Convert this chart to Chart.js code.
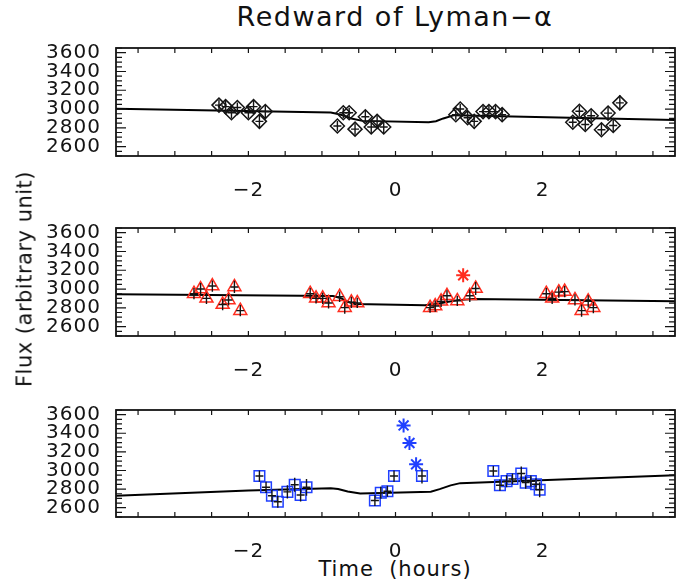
<!DOCTYPE html>
<html lang="en">
<head>
    <meta charset="UTF-8">
    <title>Redward of Lyman-α</title>
    <script src="https://cdn.jsdelivr.net/npm/chart.js"></script>
    <style>
        body {
            margin: 0;
            background: #fff;
            font-family: 'DejaVu Sans', sans-serif;
            color: #111;
        }

        .wrap {
            position: relative;
            width: 695px;
            height: 584px;
            overflow: hidden;
        }

        .panel {
            position: absolute;
            left: 0;
        }

        .title {
            position: absolute;
            left: 395px;
            top: 1px;
            transform: translateX(-50%);
            white-space: nowrap;
            font-size: 27px;
            line-height: 32px;
            letter-spacing: 1.5px;
        }

        .xlabel {
            position: absolute;
            left: 395px;
            top: 557px;
            transform: translateX(-50%);
            white-space: nowrap;
            font-size: 21px;
            line-height: 25px;
            letter-spacing: 1px;
        }

        .ylabel {
            position: absolute;
            left: 25px;
            top: 279px;
            transform: translate(-50%, -50%) rotate(-90deg);
            white-space: nowrap;
            font-size: 21px;
            line-height: 25px;
            letter-spacing: 0.5px;
        }
    </style>
</head>
<body>
<div class="wrap">
    <div class="title">Redward of Lyman−α</div>
    <canvas id="p1" class="panel" width="695" height="167" style="top:29px"></canvas>
    <canvas id="p2" class="panel" width="695" height="167" style="top:209px"></canvas>
    <canvas id="p3" class="panel" width="695" height="166" style="top:391px"></canvas>
    <div class="ylabel">Flux (arbitrary unit)</div>
    <div class="xlabel">Time&nbsp; (hours)</div>
</div>

<script>
    // top panel: diamonds
    const t1 = [-2.40, -2.31, -2.23, -2.15, -2.00, -1.93, -1.85, -1.77, -0.79, -0.71, -0.63, -0.55, -0.41, -0.33, -0.25, -0.16,
                0.82, 0.88, 0.98, 1.07, 1.19, 1.27, 1.36, 1.45, 2.41, 2.50, 2.58, 2.66, 2.80, 2.89, 2.96, 3.05];
    const flux1 = [3042, 3026, 2960, 3016, 2960, 3026, 2869, 2973, 2819, 2960, 2960, 2786, 2918, 2809, 2869, 2809,
                   2940, 3000, 2908, 2869, 2973, 2973, 2973, 2940, 2859, 2977, 2835, 2928, 2780, 2957, 2825, 3066];
    const err1 = [55, 60, 60, 55, 60, 65, 70, 70, 55, 55, 55, 60, 60, 65, 60, 65,
                  55, 55, 60, 55, 60, 65, 65, 70, 55, 60, 60, 60, 60, 65, 70, 80];
    const modelT1 = [-3.8, -0.88, -0.8, -0.7, -0.6, -0.45, 0.45, 0.55, 0.65, 0.8, 3.8];
    const modelF1 = [3003, 2963, 2950, 2930, 2900, 2874, 2860, 2870, 2900, 2935, 2882];

    // middle panel: triangles
    const t2 = [-2.74, -2.65, -2.57, -2.49, -2.35, -2.27, -2.19, -2.11, -1.16, -1.08, -0.99, -0.91, -0.76, -0.69, -0.60, -0.52,
                0.47, 0.54, 0.62, 0.70, 0.84, 1.01, 1.09, 2.05, 2.13, 2.22, 2.30, 2.44, 2.53, 2.62, 2.69];
    const flux2 = [2950, 3000, 2901, 3032, 2835, 2884, 3022, 2770, 2950, 2901, 2901, 2852, 2918, 2802, 2859, 2852,
                   2802, 2819, 2869, 2928, 2874, 2928, 3006, 2950, 2901, 2967, 2973, 2884, 2770, 2869, 2802];
    const err2 = [60, 65, 60, 60, 60, 60, 65, 60, 60, 55, 60, 60, 55, 65, 60, 55,
                  55, 60, 60, 60, 55, 65, 70, 60, 60, 60, 60, 60, 65, 65, 60];
    const outT2 = [0.92];
    const outF2 = [3147];
    const modelT2 = [-3.8, -0.85, -0.75, -0.65, -0.55, 0.4, 0.55, 0.7, 0.85, 1.05, 3.8];
    const modelF2 = [2945, 2925, 2905, 2865, 2840, 2828, 2840, 2862, 2882, 2895, 2870];

    // bottom panel: squares
    const t3 = [-1.85, -1.76, -1.68, -1.60, -1.47, -1.37, -1.29, -1.21, -0.28, -0.20, -0.11, -0.02, 0.36,
                1.33, 1.42, 1.51, 1.59, 1.71, 1.77, 1.84, 1.91, 1.96];
    const flux3 = [2940, 2819, 2728, 2664, 2770, 2846, 2737, 2819, 2678, 2760, 2777, 2940, 2940,
                   2994, 2842, 2885, 2908, 2967, 2869, 2885, 2852, 2793];
    const err3 = [60, 60, 65, 65, 70, 75, 70, 90, 60, 65, 60, 60, 80,
                  55, 60, 65, 60, 75, 65, 60, 65, 80];
    const outT3 = [0.11, 0.19, 0.28];
    const outF3 = [3484, 3295, 3066];
    const modelT3 = [-3.8, -2.0, -0.88, -0.78, -0.65, -0.48, 0.48, 0.6, 0.75, 0.88, 3.8];
    const modelF3 = [2728, 2785, 2810, 2800, 2775, 2752, 2772, 2800, 2840, 2864, 2950];

    const xLabels = [-2, 0, 2];
    const yLabels = [2600, 2800, 3000, 3200, 3400, 3600];

    const RED = '#ff2d1f';
    const BLUE = '#2040ff';
    const INK = '#141414';

    const pts = (xs, ys) => xs.map((x, i) => ({ x: x, y: ys[i] }));

    // IDL style: closed frame, inward ticks on all four sides, error bars with a cross
    const idlFrame = {
        id: 'idlFrame',
        beforeDraw(chart) {
            chart.ctx.letterSpacing = '1px';
        },
        afterDatasetsDraw(chart, args, opts) {
            const ctx = chart.ctx;
            const xs = chart.scales.x, ys = chart.scales.y;
            ctx.save();
            ctx.strokeStyle = INK;
            ctx.lineWidth = 1.4;
            opts.t.forEach((t, i) => {
                const px = xs.getPixelForValue(t);
                const py = ys.getPixelForValue(opts.f[i]);
                ctx.beginPath();
                ctx.moveTo(px, ys.getPixelForValue(opts.f[i] + opts.e[i]));
                ctx.lineTo(px, ys.getPixelForValue(opts.f[i] - opts.e[i]));
                ctx.moveTo(px - 4, py);
                ctx.lineTo(px + 4, py);
                ctx.stroke();
            });
            ctx.restore();
        },
        afterDraw(chart) {
            const ctx = chart.ctx;
            const a = chart.chartArea;
            const xs = chart.scales.x, ys = chart.scales.y;
            ctx.save();
            ctx.letterSpacing = '0px';
            ctx.strokeStyle = INK;
            ctx.lineWidth = 1.8;
            ctx.strokeRect(a.left, a.top, a.right - a.left, a.bottom - a.top);
            ctx.lineWidth = 1.2;
            ctx.beginPath();
            xs.ticks.forEach(tk => {
                const px = xs.getPixelForValue(tk.value);
                ctx.moveTo(px, a.bottom);
                ctx.lineTo(px, a.bottom - 5);
                ctx.moveTo(px, a.top);
                ctx.lineTo(px, a.top + 5);
            });
            ys.ticks.forEach(tk => {
                const py = ys.getPixelForValue(tk.value);
                const len = tk.value % 200 === 0 ? 10 : 6;
                ctx.moveTo(a.left, py);
                ctx.lineTo(a.left + len, py);
                ctx.moveTo(a.right, py);
                ctx.lineTo(a.right - len, py);
            });
            ctx.stroke();
            ctx.restore();
        }
    };

    function makePanel(id, markers, outliers, model) {
        const datasets = [{
            data: pts(markers.t, markers.f),
            showLine: false,
            pointStyle: markers.style,
            pointRadius: markers.radius,
            pointBorderColor: markers.color,
            pointBackgroundColor: 'rgba(0,0,0,0)',
            pointBorderWidth: 1.5
        }];
        if (outliers) {
            datasets.push({
                data: pts(outliers.t, outliers.f),
                showLine: false,
                pointStyle: 'star',
                pointRadius: 7,
                pointBorderColor: outliers.color,
                pointBorderWidth: 2
            });
        }
        datasets.push({
            data: pts(model.t, model.f),
            showLine: true,
            borderColor: '#000',
            borderWidth: 2,
            pointRadius: 0,
            tension: 0
        });

        new Chart(document.getElementById(id), {
            type: 'scatter',
            data: { datasets: datasets },
            plugins: [idlFrame],
            options: {
                responsive: false,
                animation: false,
                layout: { padding: { top: 10, right: 20, left: 0, bottom: 0 } },
                plugins: {
                    legend: { display: false },
                    tooltip: { enabled: false },
                    idlFrame: { t: markers.t, f: markers.f, e: markers.e }
                },
                scales: {
                    x: {
                        type: 'linear',
                        min: -3.8,
                        max: 3.8,
                        grid: { display: false },
                        border: { display: false },
                        ticks: {
                            stepSize: 0.5,
                            includeBounds: false,
                            autoSkip: false,
                            maxRotation: 0,
                            padding: 15,
                            color: INK,
                            font: { family: 'DejaVu Sans', size: 20 },
                            callback: v => {
                                const hit = xLabels.find(l => Math.abs(l - v) < 1e-6);
                                return hit === undefined ? '' : String(hit).replace('-', '\u2212');
                            }
                        },
                        afterFit: s => { s.height = 40; }
                    },
                    y: {
                        min: 2500,
                        max: 3650,
                        grid: { display: false },
                        border: { display: false },
                        ticks: {
                            stepSize: 50,
                            includeBounds: false,
                            autoSkip: false,
                            padding: 7,
                            color: INK,
                            font: { family: 'DejaVu Sans', size: 20 },
                            callback: v => yLabels.includes(v) ? String(v) : ''
                        },
                        afterFit: s => { s.width = 116; }
                    }
                }
            }
        });
    }

    makePanel('p1',
        { t: t1, f: flux1, e: err1, style: 'rectRot', radius: 7, color: INK },
        null,
        { t: modelT1, f: modelF1 });
    makePanel('p2',
        { t: t2, f: flux2, e: err2, style: 'triangle', radius: 7.5, color: RED },
        { t: outT2, f: outF2, color: RED },
        { t: modelT2, f: modelF2 });
    makePanel('p3',
        { t: t3, f: flux3, e: err3, style: 'rect', radius: 7.5, color: BLUE },
        { t: outT3, f: outF3, color: BLUE },
        { t: modelT3, f: modelF3 });
</script>
</body>
</html>
